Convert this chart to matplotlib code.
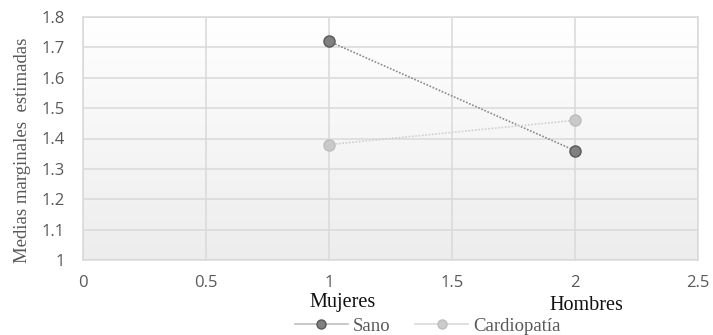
import numpy as np
import matplotlib
matplotlib.use("Agg")
import matplotlib.pyplot as plt
from matplotlib.lines import Line2D
from matplotlib.colors import LinearSegmentedColormap

# Data
groups = ["Mujeres", "Hombres"]
x_pos = [1, 2]
sano = [1.72, 1.36]
cardiopatia = [1.38, 1.46]
series_names = ["Sano", "Cardiopatía"]
x_ticks = [0, 0.5, 1, 1.5, 2, 2.5]
x_tick_labels = ["0", "0.5", "1", "1.5", "2", "2.5"]
y_ticks = [1, 1.1, 1.2, 1.3, 1.4, 1.5, 1.6, 1.7, 1.8]
y_tick_labels = ["1", "1.1", "1.2", "1.3", "1.4", "1.5", "1.6", "1.7", "1.8"]

fig = plt.figure(figsize=(7.13, 3.35), dpi=100)
ax = fig.add_axes([83/713, 1-260/335, 615/713, 243/335])

# gradient background (white at top, light gray at bottom)
grad = np.linspace(0, 1, 256).reshape(-1, 1)
cmap = LinearSegmentedColormap.from_list("g", ["#ffffff", "#ededed"])
ax.imshow(grad, extent=[0, 2.5, 1.0, 1.8], aspect="auto", cmap=cmap, zorder=0, origin="upper")
ax.set_xlim(0, 2.5)
ax.set_ylim(1.0, 1.8)

ax.set_xticks(x_ticks)
ax.set_xticklabels(x_tick_labels)
ax.set_yticks(y_ticks)
ax.set_yticklabels(y_tick_labels)
ax.grid(True, color="#d9d9d9", linewidth=1.1, zorder=1)
for s in ax.spines.values():
    s.set_color("#d9d9d9")
    s.set_linewidth(1.1)
ax.tick_params(length=0, labelcolor="#595959", labelsize=12)
ax.tick_params(axis="y", pad=13)
ax.tick_params(axis="x", pad=11)
for lab in ax.get_xticklabels() + ax.get_yticklabels():
    lab.set_fontfamily("Open Sans")

ax.plot(x_pos, sano, linestyle=(0, (1, 1)), color="#8a8a8a", linewidth=1.2,
        marker="o", markersize=8, markerfacecolor="#808080", markeredgecolor="#595959",
        markeredgewidth=1.0, zorder=3)
ax.plot(x_pos, cardiopatia, linestyle=(0, (1, 1)), color="#cfcfcf", linewidth=1.2,
        marker="o", markersize=8, markerfacecolor="#c9c9c9", markeredgecolor="#bdbdbd",
        markeredgewidth=1.0, zorder=3)

ax.set_ylabel("Medias marginales  estimadas", fontfamily="Liberation Serif", fontsize=13.5,
              color="#595959", va="center")
ax.yaxis.set_label_coords(-0.099, 0.453)

# group labels
fig.text(343/713, 1-302/335, groups[0], ha="center", va="center", fontfamily="Liberation Serif",
         fontsize=14.5, color="#111111")
fig.text(586/713, 1-306/335, groups[1], ha="center", va="center", fontfamily="Liberation Serif",
         fontsize=14.5, color="#111111")

handles = [
    Line2D([], [], color="#bfbfbf", linewidth=1.2, marker="o", markersize=6.5,
           markerfacecolor="#808080", markeredgecolor="#595959"),
    Line2D([], [], color="#d9d9d9", linewidth=1.2, marker="o", markersize=6.5,
           markerfacecolor="#cccccc", markeredgecolor="#bdbdbd"),
]
leg = fig.legend(handles, series_names, loc="center", bbox_to_anchor=(428/713, 1-326/335),
                 ncol=2, frameon=False, prop={"family": "Liberation Serif", "size": 13.5},
                 handlelength=2.8, columnspacing=1.3, handletextpad=0.3, labelcolor="#595959",
                 borderpad=0, borderaxespad=0)

fig.savefig("out.png", dpi=100)
